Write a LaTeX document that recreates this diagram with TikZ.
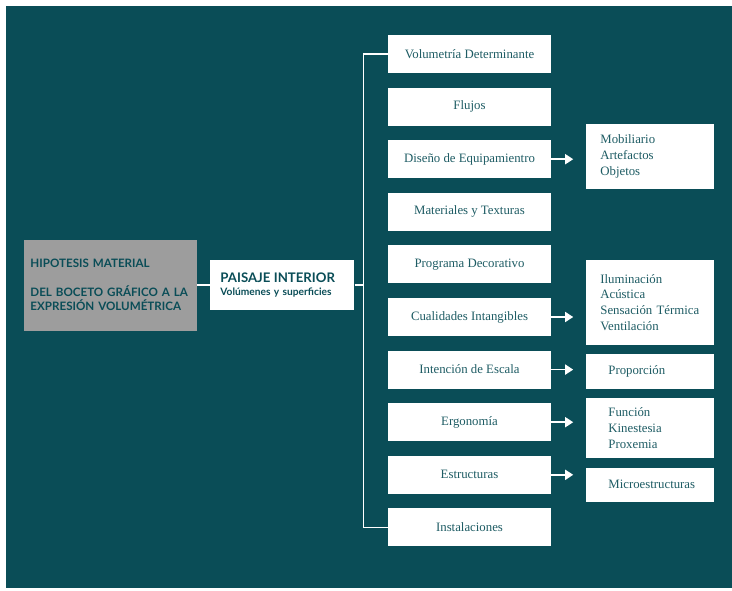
\documentclass[tikz,border=0pt]{standalone}
\usepackage{fontspec}
\setmainfont{Liberation Serif}
\newfontfamily\boldsans{Lato}
\usepackage{xcolor}
\usetikzlibrary{positioning, arrows.meta}
\definecolor{petrol}{HTML}{0A4D57}
\definecolor{petroltext}{HTML}{1E5C64}
\definecolor{greybox}{HTML}{9D9D9D}

\begin{document}
\begin{tikzpicture}[x=1pt, y=-1pt,
    topic/.style={fill=white, rectangle, minimum width=163pt, minimum height=38pt, inner sep=0pt, text=petroltext, font=\fontsize{12.8}{15}\selectfont},
    subtopic/.style={fill=white, rectangle, text width=100pt, inner xsep=14pt, inner ysep=0pt, align=left, text=petroltext, font=\fontsize{12.8}{15.8}\selectfont},
    subnarrow/.style={subtopic, text width=84pt, inner xsep=22pt},
    headbox/.style={rectangle, inner ysep=0pt, align=left, text=petrol},
    edge/.style={draw=white, line width=1.6pt},
    arrowedge/.style={edge, -{Triangle[length=8pt, width=10pt]}, shorten >=13pt}
  ]

  % Hintergrund
  \fill[white] (0,0) rectangle (732,590);
  \fill[petrol] (6,6) rectangle (732,588);
  \useasboundingbox (0,0) rectangle (732,590);

  % Knoten links
  \node[headbox, fill=greybox, minimum width=173pt, minimum height=91pt, text width=160pt, inner xsep=6.5pt,
        font=\boldsans\bfseries\fontsize{11.6}{14.5}\selectfont] (g1) at (110.5,285)
        {HIPOTESIS MATERIAL\\[14.5pt]DEL BOCETO GRÁFICO A LA\\EXPRESIÓN VOLUMÉTRICA};
  \node[headbox, fill=white, minimum width=144pt, minimum height=50pt, text width=124pt, inner xsep=10pt,
        font=\boldsans\bfseries\fontsize{10.2}{11}\selectfont, right=13pt of g1] (p1)
        {{\fontsize{13.2}{13}\selectfont PAISAJE INTERIOR}\\[1.5pt]Volúmenes y superficies};
  \coordinate[right=9pt of p1] (bus);

  % Spalte rechts
  \node[topic] (t1) at (469.5,54) {Volumetría Determinante};
  \node[topic, below=14.2pt of t1] (t2) {Flujos};
  \node[topic, below=14.2pt of t2] (t3) {Diseño de Equipamientro};
  \node[topic, below=14.2pt of t3] (t4) {Materiales y Texturas};
  \node[topic, below=14.2pt of t4] (t5) {Programa Decorativo};
  \node[topic, below=14.2pt of t5] (t6) {Cualidades Intangibles};
  \node[topic, below=14.2pt of t6] (t7) {Intención de Escala};
  \node[topic, below=14.2pt of t7] (t8) {Ergonomía};
  \node[topic, below=14.2pt of t8] (t9) {Estructuras};
  \node[topic, below=14.2pt of t9] (t10) {Instalaciones};

  % Unterpunkte
  \node[subtopic, minimum height=65pt, right=35pt of t3, yshift=2.5pt] (s1) {Mobiliario\\Artefactos\\Objetos};
  \node[subtopic, minimum height=85pt, right=35pt of t6, yshift=14.5pt] (s2) {Iluminación\\Acústica\\Sensación Térmica\\Ventilación};
  \node[subnarrow, minimum height=35pt, right=35pt of t7, yshift=-1.5pt] (s3) {Proporción};
  \node[subnarrow, minimum height=60pt, right=35pt of t8, yshift=-6pt] (s4) {Función\\Kinestesia\\Proxemia};
  \node[subnarrow, minimum height=34pt, right=35pt of t9, yshift=-10pt] (s5) {Microestructuras};

  % Kanten
  \draw[edge] (g1) -- (p1);
  \draw[edge] (p1) -- (bus);
  \draw[edge] (t1.west) -| (bus) |- (t10.west);
  \draw[arrowedge] (t3.east) -- (t3.east -| s1.west);
  \draw[arrowedge] (t6.east) -- (t6.east -| s2.west);
  \draw[arrowedge] (t7.east) -- (t7.east -| s3.west);
  \draw[arrowedge] (t8.east) -- (t8.east -| s4.west);
  \draw[arrowedge] (t9.east) -- (t9.east -| s5.west);

\end{tikzpicture}
\end{document}
